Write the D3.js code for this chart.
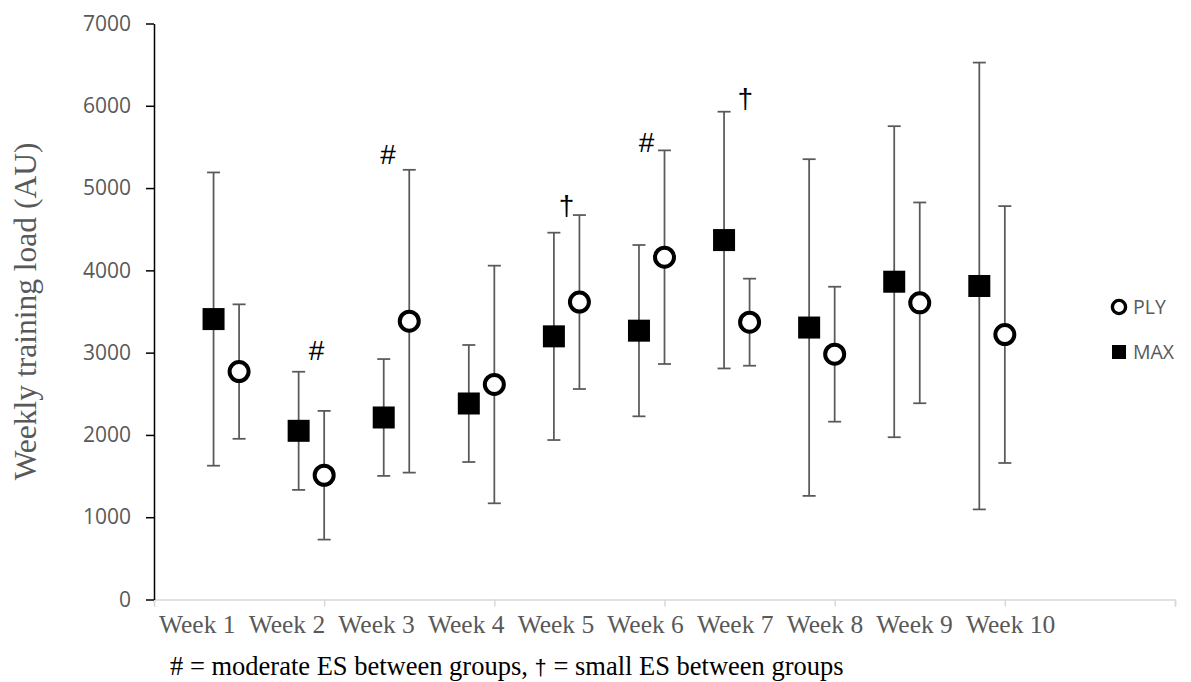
<!DOCTYPE html>
<html>
<head>
<meta charset="utf-8">
<script src="https://cdn.jsdelivr.net/npm/d3@7"></script>
<style>
  html, body { margin: 0; padding: 0; background: #fff; }
  svg { display: block; }
</style>
</head>
<body>
<svg id="chart" width="1191" height="682"></svg>
<script>
// Weekly training load (AU), mean and SD for each group
const weeks = ["Week 1", "Week 2", "Week 3", "Week 4", "Week 5", "Week 6", "Week 7", "Week 8", "Week 9", "Week 10"];
const plyMean = [2770, 1510, 3382, 2613, 3615, 4160, 3370, 2981, 3605, 3220];
const plySD   = [817, 782, 1840, 1444, 1057, 1298, 529, 820, 1220, 1561];
const maxMean = [3408, 2050, 2212, 2382, 3198, 3267, 4368, 3305, 3862, 3810];
const maxSD   = [1782, 718, 710, 711, 1260, 1041, 1560, 2046, 1890, 2715];

const yTicks = [0, 1000, 2000, 3000, 4000, 5000, 6000, 7000];
const xTicks = [0, 2, 4, 6, 8, 10, 12];

// Effect-size markers placed in data units
const marks = [
  { sym: "#", x: 1.91, y: 3030 },
  { sym: "#", x: 2.75, y: 5420 },
  { sym: "\u2020", x: 4.85, y: 4790 },
  { sym: "#", x: 5.79, y: 5555 },
  { sym: "\u2020", x: 6.95, y: 6090 }
];
const maxOffset = -0.3;

const svg = d3.select("#chart");
const x = d3.scaleLinear().domain([0, 12]).range([154, 1175]);
const y = d3.scaleLinear().domain([0, 7000]).range([599.5, 23.5]);

const grey = "#595959";

// x axis (light grey, unlabelled ticks)
const xAxis = svg.append("g")
  .attr("transform", `translate(0,${y(0)})`)
  .call(d3.axisBottom(x).tickValues(xTicks).tickSize(7).tickFormat(""));
xAxis.select(".domain").attr("stroke", "#d9d9d9").attr("stroke-width", 1.5);
xAxis.selectAll(".tick line").attr("stroke", "#d9d9d9").attr("stroke-width", 1.5);

// y axis
const yAxis = svg.append("g")
  .attr("transform", `translate(${x(0)},0)`)
  .call(d3.axisLeft(y).tickValues(yTicks).tickFormat(d3.format("d"))
    .tickSize(8).tickPadding(15).tickSizeOuter(0));
yAxis.select(".domain").attr("stroke", "#000").attr("stroke-width", 1.5);
yAxis.selectAll(".tick line").attr("stroke", "#000").attr("stroke-width", 1.5);
yAxis.selectAll(".tick text")
  .attr("fill", grey)
  .style("font-family", "'Open Sans', sans-serif")
  .style("font-size", "21px");

// week labels row
const labelX = d3.scaleLinear().domain([0, 9]).range([159, 966]);
svg.append("g").selectAll("text").data(weeks).join("text")
  .attr("x", (d, i) => labelX(i))
  .attr("y", 633)
  .attr("fill", grey)
  .style("font-family", "'Liberation Serif', 'Times New Roman', serif")
  .style("font-size", "25.5px")
  .text(d => d);

// y axis title
svg.append("text")
  .attr("transform", `translate(36,${(y(0) + y(7000)) / 2}) rotate(-90)`)
  .attr("text-anchor", "middle")
  .attr("fill", grey)
  .style("font-family", "'Liberation Serif', 'Times New Roman', serif")
  .style("font-size", "31.5px")
  .text("Weekly training load (AU)");

// error bars
function errorBars(means, sds, offset) {
  const g = svg.append("g").attr("stroke", grey).attr("stroke-width", 1.75);
  means.forEach((m, i) => {
    const cx = x(i + 1 + offset);
    const top = y(m + sds[i]), bot = y(m - sds[i]);
    g.append("line").attr("x1", cx).attr("x2", cx).attr("y1", top).attr("y2", bot);
    g.append("line").attr("x1", cx - 6.5).attr("x2", cx + 6.5).attr("y1", top).attr("y2", top);
    g.append("line").attr("x1", cx - 6.5).attr("x2", cx + 6.5).attr("y1", bot).attr("y2", bot);
  });
}
errorBars(maxMean, maxSD, maxOffset);
errorBars(plyMean, plySD, 0);

// MAX: filled squares
const sq = 22;
svg.append("g").selectAll("rect").data(maxMean).join("rect")
  .attr("x", (d, i) => x(i + 1 + maxOffset) - sq / 2)
  .attr("y", d => y(d) - sq / 2)
  .attr("width", sq).attr("height", sq)
  .attr("fill", "#000");

// PLY: open circles
svg.append("g").selectAll("circle").data(plyMean).join("circle")
  .attr("cx", (d, i) => x(i + 1))
  .attr("cy", d => y(d))
  .attr("r", 9.5)
  .attr("fill", "#fff")
  .attr("stroke", "#000")
  .attr("stroke-width", 4);

// effect size symbols
svg.append("g").selectAll("text").data(marks).join("text")
  .attr("x", d => x(d.x))
  .attr("y", d => y(d.y))
  .attr("dy", "0.36em")
  .attr("text-anchor", "middle")
  .attr("fill", "#000")
  .style("font-family", "'Liberation Sans', Arial, sans-serif")
  .style("font-size", "28px")
  .text(d => d.sym);

// legend
const legend = svg.append("g")
  .style("font-family", "'Open Sans', sans-serif")
  .style("font-size", "19.5px")
  .attr("fill", grey);
legend.append("circle").attr("cx", 1119).attr("cy", 307).attr("r", 6.6)
  .attr("fill", "#fff").attr("stroke", "#000").attr("stroke-width", 3.4);
legend.append("text").attr("x", 1133).attr("y", 314).text("PLY");
legend.append("rect").attr("x", 1112).attr("y", 345).attr("width", 14).attr("height", 14).attr("fill", "#000");
legend.append("text").attr("x", 1133).attr("y", 359).text("MAX");

// footnote
const note = svg.append("text")
  .attr("x", 170).attr("y", 675)
  .attr("fill", "#000")
  .style("font-family", "'Liberation Serif', 'Times New Roman', serif")
  .style("font-size", "26.5px");
note.append("tspan").text("# = moderate ES between groups, ");
note.append("tspan").style("font-family", "'Liberation Sans', Arial, sans-serif").style("font-size", "22px").text("\u2020");
note.append("tspan").text(" = small ES between groups");
</script>
</body>
</html>
